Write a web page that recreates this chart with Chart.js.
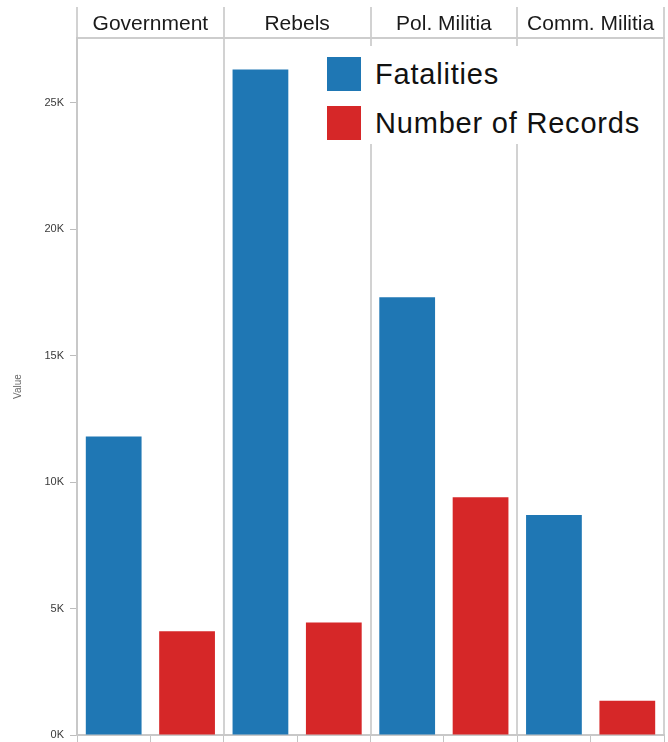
<!DOCTYPE html>
<html><head><meta charset="utf-8">
<script src="https://cdn.jsdelivr.net/npm/chart.js@4.4.1/dist/chart.umd.min.js"></script>
<style>
html,body{margin:0;padding:0;background:#fff;}
#wrap{position:relative;width:668px;height:742px;}
#legend{position:absolute;left:318px;top:46px;width:334px;height:98px;background:#fff;font-family:"Liberation Sans",Arial,sans-serif;font-size:29px;color:#111;letter-spacing:0.8px;}
.item{position:absolute;left:9px;display:flex;align-items:center;height:34px;white-space:nowrap;}
.sw{width:34px;height:34px;margin-right:14px;flex:none;}
</style></head>
<body><div id="wrap"><canvas id="c" width="668" height="742"></canvas><div id="legend"></div></div>
<script>
const categories = ["Government", "Rebels", "Pol. Militia", "Comm. Militia"];
const fatalities = [11800, 26300, 17300, 8700];
const records = [4100, 4450, 9400, 1350];
const seriesNames = ["Fatalities", "Number of Records"];
const seriesColors = ["#1f77b4", "#d62728"];
const yTicks = [0, 5000, 10000, 15000, 20000, 25000];
const yTitle = "Value";

const FONT = '"Liberation Sans", Arial, sans-serif';
const subLabels = categories.flatMap(c => seriesNames.map(s => c + " " + s));

// legend (HTML)
const leg = document.getElementById('legend');
seriesNames.forEach((name, i) => {
  const it = document.createElement('div');
  it.className = 'item';
  it.style.top = (11 + i * 49) + 'px';
  const sw = document.createElement('div');
  sw.className = 'sw';
  sw.style.background = seriesColors[i];
  const tx = document.createElement('span');
  tx.textContent = name;
  it.appendChild(sw); it.appendChild(tx);
  leg.appendChild(it);
});

Chart.defaults.font.family = FONT;

new Chart(document.getElementById('c'), {
  type: 'bar',
  data: {
    labels: categories,
    datasets: [
      { label: seriesNames[0], data: fatalities, backgroundColor: seriesColors[0], borderWidth: 0, categoryPercentage: 1.0, barPercentage: 0.76, xAxisID: 'x', yAxisID: 'y' },
      { label: seriesNames[1], data: records, backgroundColor: seriesColors[1], borderWidth: 0, categoryPercentage: 1.0, barPercentage: 0.76, xAxisID: 'x', yAxisID: 'y' }
    ]
  },
  options: {
    responsive: false,
    animation: false,
    layout: { padding: { top: 11, right: 4, bottom: 0, left: 0 } },
    plugins: { legend: { display: false }, tooltip: { enabled: false } },
    scales: {
      x: {
        type: 'category',
        position: 'top',
        offset: true,
        afterFit: s => { s.height = 27; },
        grid: { offset: true, color: '#d2d2d2', lineWidth: 2, tickLength: 31, drawTicks: true },
        border: { display: true, color: '#cdcdcd', width: 2 },
        ticks: { padding: -29.5, autoSkip: false, maxRotation: 0, color: '#1a1a1a', font: { size: 21, lineHeight: 1.2 } }
      },
      x2: {
        type: 'category',
        labels: subLabels,
        position: 'bottom',
        offset: true,
        afterFit: s => { s.height = 7; s.paddingTop = 0; s.paddingBottom = 0; },
        grid: { offset: true, drawOnChartArea: false, tickLength: 7, color: '#c4c4c4', lineWidth: 1 },
        border: { display: true, color: '#c8c8c8', width: 2 },
        ticks: { display: false }
      },
      y: {
        position: 'left',
        min: 0,
        max: 27550,
        afterBuildTicks: s => { s.ticks = yTicks.map(v => ({ value: v })); },
        afterFit: s => { s.width = 77; s.paddingTop = 0; s.paddingBottom = 0; },
        grid: { drawOnChartArea: false, tickLength: 7, color: '#bdbdbd' },
        border: { display: true, color: '#c8c8c8', width: 2 },
        ticks: { padding: 6, color: '#3a3a3a', font: { size: 11 }, callback: v => (v / 1000) + 'K' },
        title: { display: true, text: yTitle, color: '#666', font: { size: 10 }, padding: { top: 12, bottom: 0 } }
      }
    }
  }
});
</script>
</body></html>
